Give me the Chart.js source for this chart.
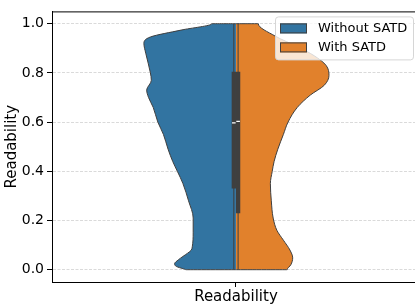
<!DOCTYPE html>
<html><head><meta charset="utf-8">
<script src="https://cdn.jsdelivr.net/npm/chart.js@4.4.1/dist/chart.umd.min.js"></script>
<style>html,body{margin:0;padding:0;background:#fff;}#wrap{width:415px;height:305px;}</style>
</head><body><div id="wrap"><canvas id="c" width="415" height="305"></canvas></div>
<script>
// ---- data ----
const categories = ['Readability'];
const seriesNames = ['Without SATD', 'With SATD'];
const yTicks = [0, 0.2, 0.4, 0.6, 0.8, 1.0];
// half-violin density widths (relative) at readability levels
const leftLevels  = [0.00, 0.004, 0.013, 0.024, 0.04, 0.054, 0.067, 0.08, 0.093, 0.15, 0.21, 0.28, 0.35, 0.40, 0.44, 0.49, 0.55, 0.60, 0.66, 0.70, 0.73, 0.77, 0.80, 0.88, 0.92, 0.946, 0.974, 1.00];
const leftWidths  = [0.54, 0.57, 0.64, 0.66, 0.62, 0.57, 0.52, 0.48, 0.47, 0.46, 0.46, 0.51, 0.57, 0.63, 0.68, 0.73, 0.78, 0.84, 0.89, 0.94, 0.96, 0.91, 0.92, 0.97, 0.99, 0.92, 0.59, 0.26];
const rightLevels = [0.00, 0.02, 0.048, 0.08, 0.12, 0.16, 0.21, 0.28, 0.35, 0.40, 0.44, 0.49, 0.55, 0.60, 0.66, 0.71, 0.75, 0.79, 0.83, 0.87, 0.905, 0.95, 1.00];
const rightWidths = [0.55, 0.59, 0.61, 0.58, 0.51, 0.44, 0.40, 0.38, 0.37, 0.39, 0.41, 0.45, 0.51, 0.56, 0.66, 0.80, 0.95, 1.00, 0.97, 0.84, 0.67, 0.42, 0.24];
// box stats: [min, q1, median, q3, max]
const leftBox  = [0.0, 0.33, 0.597, 0.805, 1.0];
const rightBox = [0.0, 0.229, 0.603, 0.805, 1.0];

// ---- styles ----
const COLORS = ['#3274a1', '#e1812c'];
const EDGE = '#3f3f3f';
const BOX_OFF = 0.023;
Chart.defaults.font.family = "'DejaVu Sans', sans-serif";

function halfViolin(levels, widths, side) {
  const pts = [{x: 0, y: levels[0]}];
  levels.forEach((v, i) => pts.push({x: side * widths[i], y: v}));
  pts.push({x: 0, y: levels[levels.length - 1]});
  return pts;
}
function violinDs(label, levels, widths, side, color) {
  return {label, data: halfViolin(levels, widths, side), backgroundColor: color, borderColor: EDGE,
    borderWidth: 1, fill: 'origin', pointRadius: 0, pointHoverRadius: 0, cubicInterpolationMode: 'monotone', order: 4};
}
function lineDs(x, y0, y1, w, order) {
  return {label: '_', data: [{x, y: y0}, {x, y: y1}], borderColor: EDGE, borderWidth: w,
    borderCapStyle: 'butt', fill: false, pointRadius: 0, pointHoverRadius: 0, order};
}
function medianDs(x, y) {
  return {label: '_', data: [{x, y}], showLine: false, pointStyle: 'line', pointRadius: 1.8, pointHoverRadius: 1.8,
    pointBorderColor: '#ffffff', pointBorderWidth: 1.2, pointBackgroundColor: '#ffffff', order: 1};
}

const datasets = [
  violinDs(seriesNames[0], leftLevels, leftWidths, -1, COLORS[0]),
  violinDs(seriesNames[1], rightLevels, rightWidths, 1, COLORS[1]),
  lineDs(-BOX_OFF, leftBox[0], leftBox[4], 1, 3),
  lineDs(BOX_OFF, rightBox[0], rightBox[4], 1, 3),
  lineDs(-BOX_OFF, leftBox[1], leftBox[3], 4.3, 2),
  lineDs(BOX_OFF, rightBox[1], rightBox[3], 4.3, 2),
  medianDs(-BOX_OFF, leftBox[2]),
  medianDs(BOX_OFF, rightBox[2])
];

const framePlugin = {
  id: 'frame',
  afterDatasetsDraw(chart) {
    const {ctx, chartArea: a} = chart;
    ctx.save();
    ctx.strokeStyle = '#000'; ctx.lineWidth = 1;
    ctx.beginPath(); ctx.moveTo(a.left, a.top + 0.5); ctx.lineTo(a.right, a.top + 0.5); ctx.stroke();
    ctx.restore();
  }
};
const legendPlugin = {
  id: 'legendBox',
  afterDraw(chart) {
    const {ctx, chartArea: a} = chart;
    const w = 138, h = 43, right = a.right - 2, top = a.top + 5, x = right - w;
    ctx.save();
    ctx.beginPath();
    if (ctx.roundRect) ctx.roundRect(x + 0.5, top + 0.5, w, h, 3); else ctx.rect(x + 0.5, top + 0.5, w, h);
    ctx.fillStyle = 'rgba(255,255,255,0.8)'; ctx.fill();
    ctx.strokeStyle = '#d6d6d6'; ctx.lineWidth = 1; ctx.stroke();
    [0, 1].forEach(i => {
      const ds = chart.data.datasets[i];
      const cy = top + 12 + i * 19;
      ctx.fillStyle = ds.backgroundColor; ctx.fillRect(x + 5, cy - 5, 27, 10);
      ctx.strokeStyle = EDGE; ctx.lineWidth = 1; ctx.strokeRect(x + 5.5, cy - 4.5, 26, 9);
      ctx.fillStyle = '#000'; ctx.font = "13px 'DejaVu Sans'"; ctx.textBaseline = 'middle'; ctx.textAlign = 'left';
      ctx.fillText(ds.label, x + 43, cy);
    });
    ctx.restore();
  }
};

new Chart(document.getElementById('c'), {
  type: 'line',
  data: {datasets},
  plugins: [framePlugin, legendPlugin],
  options: {
    responsive: false, animation: false, devicePixelRatio: 1, indexAxis: 'y',
    layout: {autoPadding: false, padding: {top: 9, right: 0, bottom: 0, left: 0}},
    plugins: {legend: {display: false}, tooltip: {enabled: false}},
    scales: {
      x: {
        type: 'linear', min: -1.978, max: 1.925,
        afterBuildTicks: s => { s.ticks = [{value: 0}]; },
        ticks: {callback: () => categories[0], font: {size: 15}, color: '#000', padding: 1, maxRotation: 0, autoSkip: false},
        grid: {drawOnChartArea: false, tickLength: 5, tickColor: '#000'},
        border: {color: '#000', width: 1},
        afterFit: s => { s.height = 23; }
      },
      y: {
        type: 'linear', min: -0.05, max: 1.05,
        afterBuildTicks: s => { s.ticks = yTicks.map(v => ({value: v})); },
        ticks: {callback: v => Number(v).toFixed(1), font: {size: 14}, color: '#000', padding: 3},
        grid: {color: '#d0d0d0', lineWidth: 0.8, tickLength: 5, tickColor: '#000', tickWidth: 1, tickBorderDash: []},
        border: {color: '#000', width: 1, dash: [3, 1.5]},
        title: {display: true, text: 'Readability', font: {size: 15}, color: '#000', padding: {top: 3, bottom: 0}},
        afterFit: s => { s.width = 52; }
      }
    }
  }
});
</script></body></html>
